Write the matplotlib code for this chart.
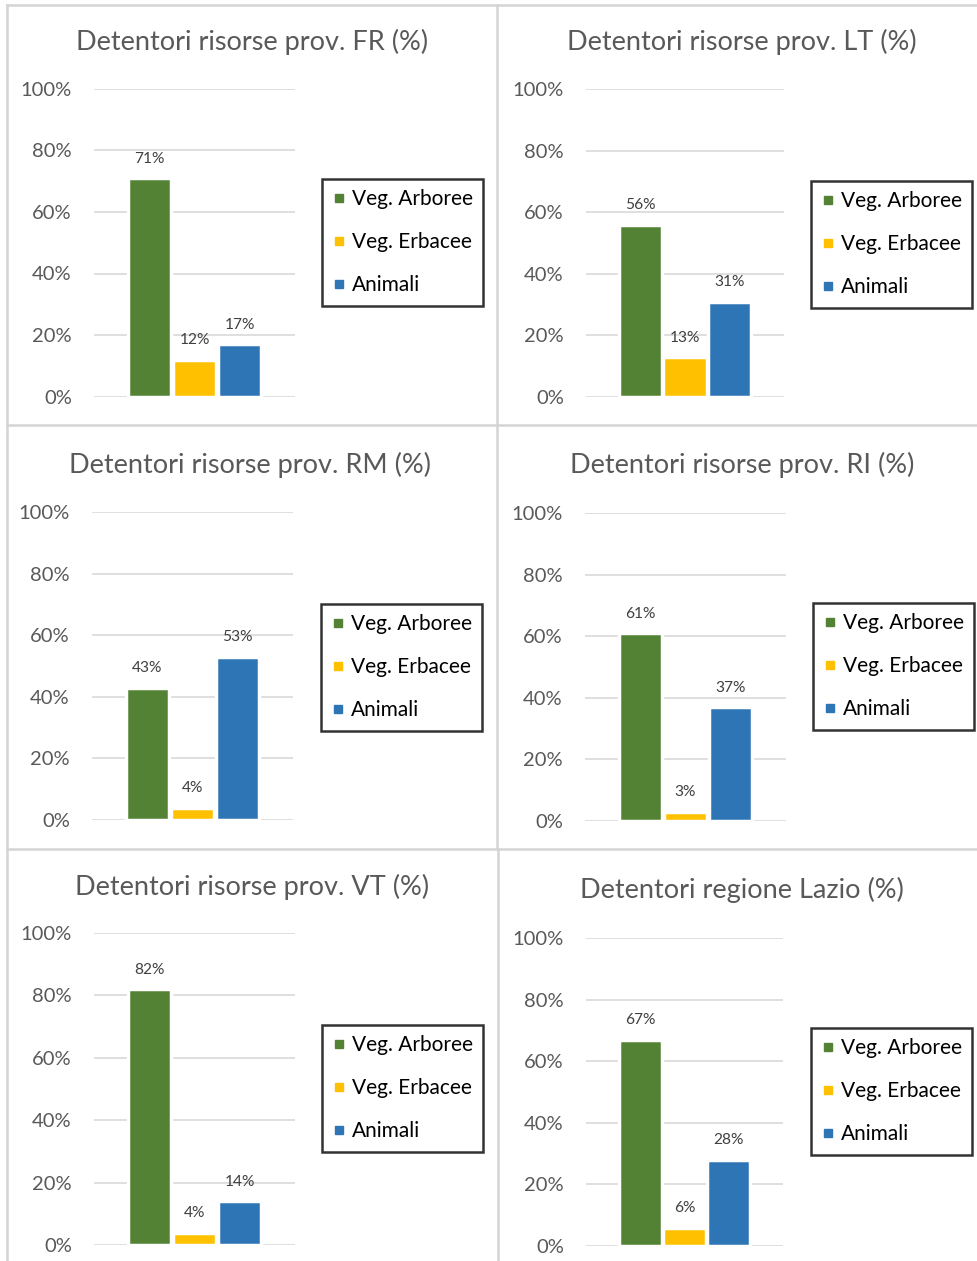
import numpy as np
import matplotlib
matplotlib.use("Agg")
from matplotlib import pyplot as plt
from matplotlib.lines import Line2D

plt.rcParams['font.family'] = ['Lato', 'DejaVu Sans']

# data
categories = ["Veg. Arboree", "Veg. Erbacee", "Animali"]
colors = ["#548235", "#FFC000", "#2E75B6"]
titles = ["Detentori risorse prov. FR (%)", "Detentori risorse prov. LT (%)",
          "Detentori risorse prov. RM (%)", "Detentori risorse prov. RI (%)",
          "Detentori risorse prov. VT (%)", "Detentori regione Lazio (%)"]
fr = [71, 12, 17]
lt = [56, 13, 31]
rm = [43, 4, 53]
ri = [61, 3, 37]
vt = [82, 4, 14]
lazio = [67, 6, 28]
yticks = [0, 20, 40, 60, 80, 100]

W, H = 978, 1261
fig = plt.figure(figsize=(W / 100, H / 100), dpi=100)

# layout in pixels: axes box (x0, y0, x1, y1), title centre, legend box
axes_px = [(94, 88.7, 295, 396.7), (586, 89, 784, 397),
           (92, 512, 293, 820), (585, 513, 786, 821),
           (94, 933, 295, 1245), (586, 938, 783, 1246)]
title_px = [(252, 42), (742, 42), (250, 465), (742, 465), (252, 887), (742, 890)]
legend_px = [(322, 179, 484, 307), (811, 181, 971, 307), (321, 604, 482, 730),
             (813, 603, 974, 731), (322, 1025, 484, 1153), (811, 1028, 972, 1155)]

def fx(x):
    return x / W

def fy(y):
    return 1 - y / H

# panel borders
bc = "#d4d4d4"
for (x0, y0, x1, y1) in [(7, 5, 978, 5), (7, 425, 978, 425), (7, 849, 978, 849),
                         (7, 5, 7, 1261), (497, 5, 497, 849), (498, 849, 498, 1261)]:
    fig.add_artist(Line2D([fx(x0), fx(x1)], [fy(y0), fy(y1)], color=bc, lw=1.8,
                          transform=fig.transFigure))

allvals = [fr, lt, rm, ri, vt, lazio]
xpos = np.arange(len(categories)) - 1
for i, vals in enumerate(allvals):
    x0, y0, x1, y1 = axes_px[i]
    ax = fig.add_axes([fx(x0), fy(y1), (x1 - x0) / W, (y1 - y0) / H])
    ax.set_ylim(0, 100)
    ax.set_xlim(-2.233, 2.233)
    ax.set_yticks(yticks)
    ax.set_yticklabels([f"{t}%" for t in yticks], fontsize=14.5, color="#595959")
    ax.set_xticks([])
    ax.tick_params(axis='y', length=0, pad=16)
    for s in ax.spines.values():
        s.set_visible(False)
    ax.yaxis.grid(True, color="#d9d9d9", lw=1.2)
    ax.set_axisbelow(True)
    bars = ax.bar(xpos, vals, width=0.97, color=colors, edgecolor="white", linewidth=2.5)
    for b, v in zip(bars, vals):
        ax.annotate(f"{v}%", (b.get_x() + b.get_width() / 2, v), xytext=(0, 14),
                    textcoords="offset points", ha="center", va="center",
                    fontsize=11.2, color="#404040")
    tx, ty = title_px[i]
    fig.text(fx(tx), fy(ty), titles[i], ha="center", va="center", fontsize=19.5,
             color="#595959")
    lx0, ly0, lx1, ly1 = legend_px[i]
    handles = [Line2D([], [], marker='s', ls='none', color=c, markersize=6) for c in colors]
    leg = fig.legend(handles, categories, loc="upper left",
                     bbox_to_anchor=(fx(lx0), fy(ly0)), bbox_transform=fig.transFigure,
                     fontsize=15, frameon=True, fancybox=False, borderpad=0.5,
                     labelspacing=1.1, handlelength=0.63, handletextpad=0.3,
                     borderaxespad=0)
    leg.get_frame().set_edgecolor("black")
    leg.get_frame().set_linewidth(1.8)
    for t in leg.get_texts():
        t.set_color("black")

fig.savefig("out.png", dpi=100)
